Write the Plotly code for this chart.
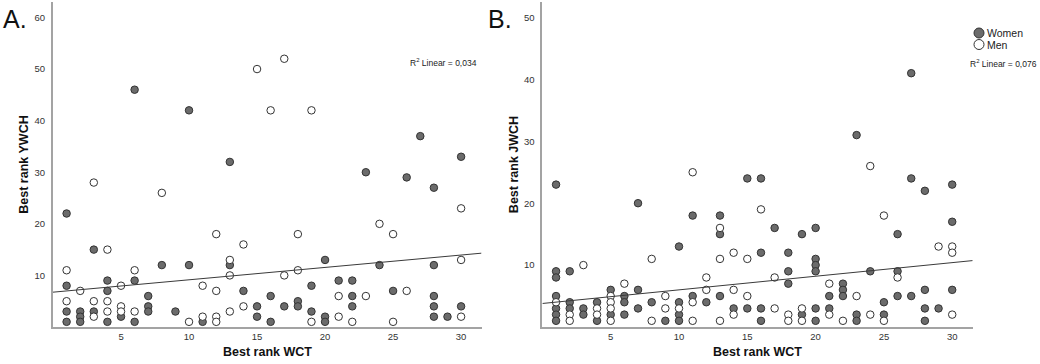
import plotly.graph_objects as go

# ---------------- Panel A: Best rank WCT vs Best rank YWCH ----------------
A_women_x = [1, 1, 1, 1, 2, 2, 2, 3, 3, 4, 4, 4, 5, 6, 6, 6, 7, 7, 7, 8, 9, 10, 10, 11,
             13, 13, 14, 15, 15, 16, 16, 17, 18, 18, 19, 19, 20, 20, 20, 21, 22, 22, 22,
             23, 24, 25, 26, 27, 28, 28, 28, 28, 28, 29, 30, 30]
A_women_y = [22, 8, 3, 1, 3, 2, 1, 15, 3, 9, 7, 1, 2, 46, 9, 1, 6, 4, 3, 12, 3, 42, 12, 1,
             32, 12, 7, 4, 2, 6, 1, 4, 5, 4, 8, 3, 13, 2, 1, 9, 9, 6, 4,
             30, 12, 7, 29, 37, 27, 12, 6, 4, 2, 2, 33, 4]
A_men_x = [1, 1, 2, 3, 3, 3, 4, 4, 4, 5, 5, 5, 6, 6, 8, 10, 11, 11, 12, 12, 12, 12,
           13, 13, 13, 14, 14, 15, 16, 17, 17, 18, 18, 19, 19, 21, 21, 22, 23, 24,
           25, 25, 26, 30, 30, 30]
A_men_y = [11, 5, 7, 28, 5, 2, 15, 5, 3, 8, 4, 3, 11, 3, 26, 1, 8, 2, 18, 7, 2, 1,
           13, 10, 3, 16, 4, 50, 42, 52, 10, 18, 11, 42, 1, 6, 2, 1, 6, 20,
           18, 1, 7, 23, 13, 2]
A_fit = [6.75, 0.24]          # intercept, slope of the total linear fit
A_r2 = "0,034"

# ---------------- Panel B: Best rank WCT vs Best rank JWCH ----------------
B_women_x = [1, 1, 1, 1, 1, 1, 1, 2, 2, 2, 3, 3, 4, 4, 5, 5, 6, 6, 6, 7, 7, 7, 8, 9,
             10, 10, 10, 10, 11, 11, 12, 13, 13, 13, 14, 15, 15, 16, 16, 16, 16, 17,
             18, 18, 18, 19, 19, 20, 20, 20, 20, 20, 20, 21, 21, 22, 22, 22, 23, 23, 23,
             24, 25, 25, 26, 26, 26, 27, 27, 27, 28, 28, 28, 28, 29, 30, 30, 30]
B_women_y = [23, 9, 8, 5, 3, 2, 1, 9, 4, 3, 3, 2, 4, 1, 6, 2, 5, 4, 2, 20, 6, 3, 4, 1,
             13, 4, 2, 1, 18, 5, 4, 18, 15, 5, 3, 24, 3, 24, 12, 3, 1, 16,
             12, 9, 7, 15, 2, 16, 11, 10, 9, 3, 1, 5, 3, 7, 6, 5, 31, 2, 1,
             9, 4, 2, 15, 9, 5, 41, 24, 5, 22, 6, 3, 1, 3, 23, 17, 6]
B_men_x = [1, 2, 2, 3, 4, 4, 5, 5, 5, 5, 6, 8, 8, 9, 9, 10, 11, 11, 11, 12, 12,
           13, 13, 13, 14, 14, 14, 15, 15, 16, 17, 17, 18, 18, 19, 19, 21, 21, 22,
           23, 24, 24, 25, 25, 26, 29, 30, 30, 30]
B_men_y = [4, 2, 1, 10, 3, 2, 5, 4, 3, 1, 7, 11, 1, 5, 3, 3, 25, 4, 1, 8, 6,
           16, 11, 1, 12, 6, 2, 11, 5, 19, 8, 3, 2, 1, 3, 1, 7, 2, 1,
           5, 26, 2, 18, 1, 8, 13, 13, 12, 2]
B_fit = [3.8, 0.22]
B_r2 = "0,076"

x_ticks = [5, 10, 15, 20, 25, 30]
A_y_ticks = [10, 20, 30, 40, 50, 60]
B_y_ticks = [10, 20, 30, 40, 50]
x_range = [0, 31.5]
A_y_range = [0, 63]
B_y_range = [0, 52.5]

W, H = 1040, 364
FONT = "Liberation Sans, Arial, sans-serif"
DARK = "#6b6b6b"
EDGE = "#333333"

women_marker = dict(size=7.5, color=DARK, line=dict(color=EDGE, width=1))
men_marker = dict(size=7.5, color="white", line=dict(color=EDGE, width=1))

fig = go.Figure()

def add_panel(wx, wy, mx, my, fit, xa, ya):
    fig.add_trace(go.Scatter(x=wx, y=wy, mode="markers", marker=women_marker,
                             name="Women", xaxis=xa, yaxis=ya, showlegend=False))
    fig.add_trace(go.Scatter(x=mx, y=my, mode="markers", marker=men_marker,
                             name="Men", xaxis=xa, yaxis=ya, showlegend=False))
    fx = x_range
    fy = [fit[0] + fit[1] * v for v in fx]
    fig.add_trace(go.Scatter(x=fx, y=fy, mode="lines", line=dict(color="#3a3a3a", width=1),
                             xaxis=xa, yaxis=ya, showlegend=False, hoverinfo="skip"))

add_panel(A_women_x, A_women_y, A_men_x, A_men_y, A_fit, "x", "y")
add_panel(B_women_x, B_women_y, B_men_x, B_men_y, B_fit, "x2", "y2")

ydom = [1 - 327 / H, 1 - 2 / H]
axis_common = dict(showgrid=False, zeroline=False, showline=True, linecolor="#a3a3a3",
                   linewidth=2, ticks="", tickfont=dict(family=FONT, size=9.5, color="#333"),
                   automargin=False)
TITLE_FONT = dict(family=FONT, size=12.5, color="#111")

fig.update_layout(
    width=W, height=H,
    margin=dict(l=0, r=0, t=0, b=0),
    paper_bgcolor="white", plot_bgcolor="white",
    xaxis=dict(domain=[53 / W, 481.5 / W], range=x_range, tickvals=x_ticks,
               anchor="y", **axis_common),
    yaxis=dict(domain=ydom, range=A_y_range, tickvals=A_y_ticks, anchor="x",
               ticklabelstandoff=4,
               title=dict(text="<b>Best rank YWCH</b>", standoff=3, font=TITLE_FONT),
               **axis_common),
    xaxis2=dict(domain=[542.4 / W, 972.7 / W], range=x_range, tickvals=x_ticks,
                anchor="y2", **axis_common),
    yaxis2=dict(domain=ydom, range=B_y_range, tickvals=B_y_ticks, anchor="x2",
                ticklabelstandoff=4,
                title=dict(text="<b>Best rank JWCH</b>", standoff=3, font=TITLE_FONT),
                **axis_common),
    showlegend=False,
)

def px(x):
    return x / W

def py(y):
    return 1 - y / H

ann = []
ann.append(dict(text="<b>Best rank WCT</b>", x=px(267.5), y=py(352), xref="paper", yref="paper",
                xanchor="center", yanchor="middle", showarrow=False, font=TITLE_FONT))
ann.append(dict(text="<b>Best rank WCT</b>", x=px(757.5), y=py(352), xref="paper", yref="paper",
                xanchor="center", yanchor="middle", showarrow=False, font=TITLE_FONT))
ann.append(dict(text="A.", x=px(1), y=py(19), xref="paper", yref="paper", xanchor="left",
                yanchor="middle", showarrow=False, font=dict(family=FONT, size=25, color="#111")))
ann.append(dict(text="B.", x=px(486), y=py(19), xref="paper", yref="paper", xanchor="left",
                yanchor="middle", showarrow=False, font=dict(family=FONT, size=25, color="#111")))
ann.append(dict(text="R<sup>2</sup> Linear = " + A_r2, x=px(479), y=py(62), xref="paper",
                yref="paper", xanchor="right", yanchor="middle", showarrow=False,
                font=dict(family=FONT, size=8.5, color="#222")))
ann.append(dict(text="R<sup>2</sup> Linear = " + B_r2, x=px(1039), y=py(63), xref="paper",
                yref="paper", xanchor="right", yanchor="middle", showarrow=False,
                font=dict(family=FONT, size=8.5, color="#222")))
ann.append(dict(text="Women", x=px(985), y=py(33), xref="paper", yref="paper",
                xanchor="left", yanchor="middle", showarrow=False,
                font=dict(family=FONT, size=10.5, color="#222")))
ann.append(dict(text="Men", x=px(985), y=py(44.5), xref="paper", yref="paper",
                xanchor="left", yanchor="middle", showarrow=False,
                font=dict(family=FONT, size=10.5, color="#222")))
fig.update_layout(annotations=ann)

shapes = []
for yy, fill in [(33, DARK), (44.5, "white")]:
    shapes.append(dict(type="circle", xref="paper", yref="paper", xsizemode="pixel",
                       ysizemode="pixel", xanchor=px(979), yanchor=py(yy),
                       x0=-5, x1=5, y0=-5, y1=5, fillcolor=fill,
                       line=dict(color=EDGE, width=1)))
fig.update_layout(shapes=shapes)

fig.write_html("out.html", config={"displayModeBar": False},
               post_script="document.body.style.margin='0';document.body.style.overflow='hidden';")
